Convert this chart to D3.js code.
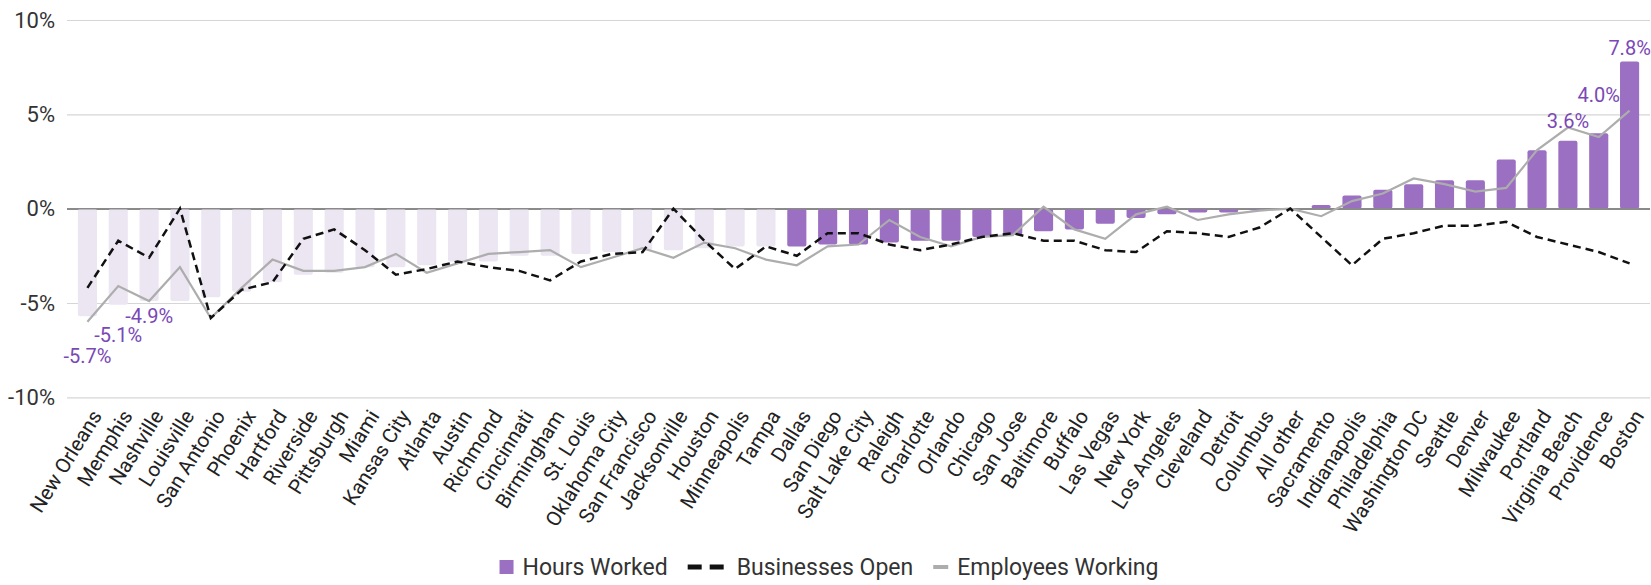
<!DOCTYPE html>
<html>
<head>
<meta charset="utf-8">
<script src="https://cdn.jsdelivr.net/npm/d3@7"></script>
<style>
  body { margin: 0; background: #fff; }
  text { font-family: Roboto, "Noto Sans", sans-serif; }
</style>
</head>
<body>
<div id="chart"></div>
<script>
// Chart data.
const cities = ["New Orleans", "Memphis", "Nashville", "Louisville", "San Antonio", "Phoenix",
  "Hartford", "Riverside", "Pittsburgh", "Miami", "Kansas City", "Atlanta", "Austin", "Richmond",
  "Cincinnati", "Birmingham", "St. Louis", "Oklahoma City", "San Francisco", "Jacksonville",
  "Houston", "Minneapolis", "Tampa", "Dallas", "San Diego", "Salt Lake City", "Raleigh",
  "Charlotte", "Orlando", "Chicago", "San Jose", "Baltimore", "Buffalo", "Las Vegas", "New York",
  "Los Angeles", "Cleveland", "Detroit", "Columbus", "All other", "Sacramento", "Indianapolis",
  "Philadelphia", "Washington DC", "Seattle", "Denver", "Milwaukee", "Portland", "Virginia Beach",
  "Providence", "Boston"];

const hoursWorked = [-5.7, -5.1, -4.9, -4.9, -4.7, -4.4, -3.9, -3.5, -3.4, -3.1, -3.1, -3.0, -2.8,
  -2.8, -2.5, -2.5, -2.4, -2.3, -2.2, -2.2, -2.1, -2.0, -2.0, -2.0, -1.9, -1.9, -1.8, -1.7, -1.7,
  -1.5, -1.4, -1.2, -1.1, -0.8, -0.5, -0.3, -0.2, -0.2, -0.1, 0.0, 0.2, 0.7, 1.0, 1.3, 1.5, 1.5,
  2.6, 3.1, 3.6, 4.0, 7.8];

const businessesOpen = [-4.2, -1.7, -2.6, 0.0, -5.8, -4.3, -3.9, -1.6, -1.1, -2.2, -3.5, -3.2, -2.8,
  -3.1, -3.3, -3.8, -2.8, -2.4, -2.3, 0.0, -1.7, -3.2, -2.0, -2.5, -1.3, -1.3, -1.9, -2.2, -1.9,
  -1.5, -1.3, -1.7, -1.7, -2.2, -2.3, -1.2, -1.3, -1.5, -1.0, 0.0, -1.5, -3.0, -1.6, -1.3, -0.9,
  -0.9, -0.7, -1.5, -1.9, -2.3, -2.9];

const employeesWorking = [-6.0, -4.1, -4.9, -3.1, -5.8, -4.2, -2.7, -3.3, -3.3, -3.1, -2.4, -3.4,
  -2.9, -2.4, -2.3, -2.2, -3.1, -2.6, -2.1, -2.6, -1.8, -2.1, -2.7, -3.0, -2.0, -1.9, -0.6, -1.5,
  -2.0, -1.5, -1.4, 0.1, -1.1, -1.6, -0.3, 0.1, -0.6, -0.3, -0.1, 0.0, -0.4, 0.4, 0.8, 1.6, 1.3,
  0.9, 1.1, 3.1, 4.3, 3.8, 5.2];

// Cities before Dallas are drawn faded.
const fadedCount = 23;

// Bars that get a value label, with a vertical nudge so labels don't collide.
const labelled = { "New Orleans": 40, "Memphis": 30, "Nashville": 15,
  "Virginia Beach": -20, "Providence": -38, "Boston": -14 };

const yTicks = [-10, -5, 0, 5, 10];
const legendNames = ["Hours Worked", "Businesses Open", "Employees Working"];

// Size and margins.
const width = 1651;
const height = 585;
const margin = { top: 20, right: 1, bottom: 188, left: 67 };

const purple = "#9b6fc2";
const faded = "#ece6f3";
const labelColor = "#7a48b6";

const svg = d3.select("#chart")
  .append("svg")
  .attr("width", width)
  .attr("height", height);

const x = d3.scaleBand()
  .domain(cities)
  .range([72, 1645])
  .paddingInner(0.38)
  .paddingOuter(0.19);

const y = d3.scaleLinear()
  .domain([-10, 10])
  .range([height - margin.bottom + 0.3, margin.top]);

// Gridlines and y tick labels.
const yAxis = svg.append("g")
  .attr("transform", "translate(" + margin.left + ",0)")
  .call(d3.axisLeft(y)
    .tickValues(yTicks)
    .tickFormat(function(d) { return d + "%"; })
    .tickSize(-(width - margin.right - margin.left))
    .tickPadding(12));
yAxis.select(".domain").remove();
yAxis.selectAll(".tick line")
  .attr("stroke", function(d) { return d === 0 ? "#8a8a8a" : "#d6d6d6"; })
  .attr("stroke-width", function(d) { return d === 0 ? 1.5 : 1.2; });
yAxis.selectAll(".tick text")
  .attr("fill", "#333")
  .style("font-size", "22px");

// Bars.
svg.append("g")
  .selectAll("rect")
  .data(cities)
  .enter()
  .append("rect")
  .attr("x", function(d) { return x(d); })
  .attr("y", function(d, i) { return y(Math.max(0, hoursWorked[i])); })
  .attr("width", x.bandwidth())
  .attr("height", function(d, i) { return Math.abs(y(hoursWorked[i]) - y(0)); })
  .attr("rx", 2)
  .attr("fill", function(d, i) { return i < fadedCount ? faded : purple; });

// Re-draw the zero line on top of the bars.
svg.append("line")
  .attr("x1", margin.left)
  .attr("x2", width - margin.right)
  .attr("y1", y(0))
  .attr("y2", y(0))
  .attr("stroke", "#8a8a8a")
  .attr("stroke-width", 1.5);

// Lines.
const cx = function(d, i) { return x(cities[i]) + x.bandwidth() / 2; };

svg.append("path")
  .datum(employeesWorking)
  .attr("fill", "none")
  .attr("stroke", "#adadad")
  .attr("stroke-width", 2.2)
  .attr("d", d3.line().x(cx).y(function(d) { return y(d); }));

svg.append("path")
  .datum(businessesOpen)
  .attr("fill", "none")
  .attr("stroke", "#111")
  .attr("stroke-width", 2.5)
  .attr("stroke-dasharray", "8,5")
  .attr("d", d3.line().x(cx).y(function(d) { return y(d); }));

// Value labels.
svg.append("g")
  .selectAll("text")
  .data(cities.filter(function(c) { return c in labelled; }))
  .enter()
  .append("text")
  .attr("x", function(d) { return x(d) + x.bandwidth() / 2; })
  .attr("y", function(d) { return y(hoursWorked[cities.indexOf(d)]) + labelled[d]; })
  .attr("dy", "0.35em")
  .attr("text-anchor", "middle")
  .attr("fill", labelColor)
  .style("font-size", "20px")
  .text(function(d) { return hoursWorked[cities.indexOf(d)].toFixed(1) + "%"; });

// City labels.
const xAxis = svg.append("g")
  .attr("transform", "translate(0," + (height - margin.bottom) + ")")
  .call(d3.axisBottom(x).tickSize(0));
xAxis.select(".domain").remove();
xAxis.selectAll(".tick text")
  .attr("y", 0)
  .attr("dy", "0.35em")
  .attr("transform", "translate(9,15) rotate(-58)")
  .attr("fill", "#222")
  .style("text-anchor", "end")
  .style("font-size", "20.5px");

// Legend.
const legend = svg.append("g");
let lx = 0;
legendNames.forEach(function(name, i) {
  const item = legend.append("g").attr("transform", "translate(" + lx + ",0)");
  if (i === 0) {
    item.append("rect").attr("x", 0).attr("y", -7).attr("width", 14).attr("height", 14)
      .attr("fill", purple);
  } else if (i === 1) {
    item.append("line").attr("x1", 0).attr("x2", 40).attr("y1", 0).attr("y2", 0)
      .attr("stroke", "#111").attr("stroke-width", 5).attr("stroke-dasharray", "14,8");
  } else {
    item.append("line").attr("x1", 0).attr("x2", 15).attr("y1", 0).attr("y2", 0)
      .attr("stroke", "#adadad").attr("stroke-width", 4);
  }
  const mw = i === 0 ? 14 : (i === 1 ? 40 : 15);
  const t = item.append("text")
    .attr("x", mw + 9)
    .attr("dy", "0.35em")
    .attr("fill", "#333")
    .style("font-size", "23px")
    .text(name);
  lx += mw + 9 + t.node().getComputedTextLength() + 20;
});
const legendWidth = lx - 20;
legend.attr("transform", "translate(" + (829 - legendWidth / 2) + ",567)");
</script>
</body>
</html>
